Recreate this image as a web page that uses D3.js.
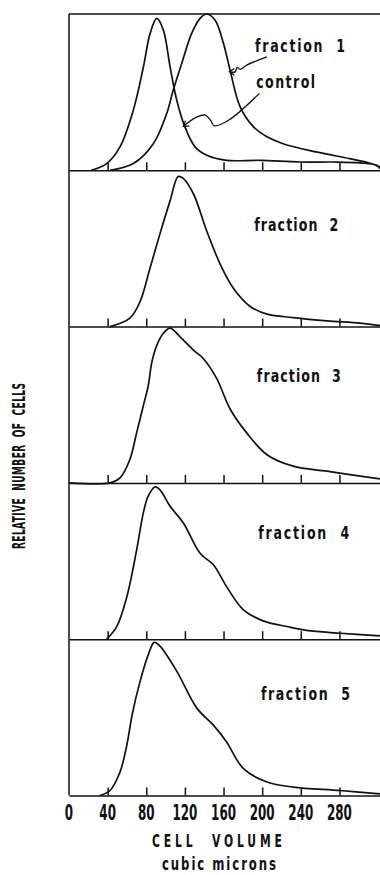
<!DOCTYPE html>
<html>
<head>
<meta charset="utf-8">
<script src="https://cdn.jsdelivr.net/npm/d3@7"></script>
<style>
  body { margin: 0; background: #fff; }
  svg { display: block; }
  .lbl { font-family: "DejaVu Sans Condensed", "DejaVu Sans", sans-serif; font-weight: bold; fill: #111; }
</style>
</head>
<body>
<div id="chart"></div>
<script>
// Cell volume distributions (volume in cubic microns, relative number 0-100 of panel height)

const panelNames = ['fraction 1', 'fraction 2', 'fraction 3', 'fraction 4', 'fraction 5'];
const tickValues = [40, 80, 120, 160, 200, 240, 280];
const tickLabels = [0, 40, 80, 120, 160, 200, 240, 280];

const control = [[23, 0], [39, 4.3], [52.8, 15], [66.6, 38.5], [77, 66], [84, 87.6], [90.9, 97.2],
  [97.7, 89.7], [104.7, 66], [111.5, 45], [120, 27.8], [130.5, 15], [142.7, 9.6], [163, 6.4],
  [198, 6.4], [239, 5.3], [273.6, 5.3], [301.6, 4.7], [318.5, 3.2], [322, 1]];

const fraction1 = [[42.5, 0], [66.6, 4.3], [87.3, 17], [101, 36], [107.8, 51], [116.5, 68],
  [127, 87.6], [135.7, 97.2], [142.7, 100], [151.3, 96], [160, 81], [166.8, 64], [177.2, 40.6],
  [191, 27.8], [205, 21.4], [221.6, 17], [256, 11.75], [290.4, 7.5], [311, 4.7], [322, 2.1]];

const fraction2 = [[42.5, 0], [63, 5.4], [73.6, 16], [84, 37.6], [94, 59], [104.7, 80.6], [113, 96],
  [118, 95], [128.8, 85], [142.7, 61], [156.5, 40], [170, 24.7], [187.6, 12.9], [205, 8],
  [232, 5.8], [267, 3.7], [301.6, 2.2], [322, 0.6]];

const fraction3 = [[0, 0], [42.5, 0], [52.8, 3.2], [63, 15], [70, 32], [77, 49.5], [82, 62], [85.7, 77],
  [90.9, 88], [97.7, 95.7], [104.7, 99], [115, 93.5], [128.8, 85], [139, 79.6], [153, 66.7],
  [166.8, 47.3], [184, 32], [205, 18], [232, 10.7], [267, 7.5], [301.6, 4.3], [322, 2.6]];

const fraction4 = [[39, 0], [49.4, 8], [59.8, 27], [70, 57], [77, 81], [82, 91.5], [89, 97.4],
  [94, 95.7], [104.7, 85], [118.4, 74.4], [135.7, 55], [149.5, 47.6], [163, 33.8], [180.6, 18.8],
  [201, 11.75], [225.6, 8.1], [246, 5.6], [281, 3.8], [322, 2.1]];

const fraction5 = [[32, 0], [42.5, 3.2], [52.8, 15], [59.8, 32], [65.5, 52], [73.6, 73], [82, 90],
  [88.3, 98], [94, 95.7], [111.5, 79.6], [132.3, 55.9], [149.5, 45], [163, 34.4], [180.6, 17.2],
  [205, 8.6], [232, 5.4], [281, 3.2], [322, 1]];

const panelSeries = [[fraction1, control], [fraction2], [fraction3], [fraction4], [fraction5]];

// label anchor points in data units (volume, relative number)
const labelPos = [[192.7, 75.8], [191.7, 61], [194.5, 64.6], [195.9, 63.9], [198.7, 61]];
const controlLabelPos = [193.8, 52.6];

// hand-drawn arrows in panel 1
const fraction1Arrow = [[204.9, 72.6], [184.1, 67.3], [177.2, 64.6], [174.1, 65.9], [172, 63], [166.1, 63]];
const controlArrow = [[197.2, 49.2], [165.1, 32], [150.5, 28.5], [146.5, 32], [141, 35.3], [132, 34], [118.4, 28.2]];

const width = 380, height = 875;
const topY = 14, panelH = 156.3;
const labelWidths = [90, 84, 84, 91, 89];

const svg = d3.select('#chart').append('svg')
    .attr('width', width)
    .attr('height', height);

const x = d3.scaleLinear().domain([0, 322]).range([69, 380]);

const yScales = panelNames.map((_, i) =>
    d3.scaleLinear().domain([0, 100]).range([topY + (i + 1) * panelH, topY + i * panelH]));

const line = (ys) => d3.line()
    .x(d => x(d[0]))
    .y(d => ys(d[1]))
    .curve(d3.curveCatmullRom.alpha(0.5));

// tall, narrow lettering like the original typewriter-style labels
function condText(parent, str, px, py, size, sy, len, opts = {}) {
    const t = parent.append('text')
        .attr('class', 'lbl')
        .attr('transform', `translate(${px},${py})${opts.rotate ? ' rotate(-90)' : ''} scale(1,${sy})`)
        .attr('font-size', size)
        .attr('text-anchor', opts.anchor || 'start')
        .text(str);
    if (len) t.attr('textLength', len).attr('lengthAdjust', opts.adjust || 'spacing');
    return t;
}

// frame: top border and left axis
svg.append('line')
    .attr('x1', x(0)).attr('x2', x(322))
    .attr('y1', topY).attr('y2', topY)
    .attr('stroke', '#111').attr('stroke-width', 1.5);

svg.append('line')
    .attr('x1', x(0)).attr('x2', x(0))
    .attr('y1', topY).attr('y2', topY + 5 * panelH)
    .attr('stroke', '#111').attr('stroke-width', 1.5);

panelNames.forEach((name, i) => {
    const ys = yScales[i];
    const g = svg.append('g');

    // baseline with upward ticks
    const axis = g.append('g')
        .attr('transform', `translate(0,${ys(0)})`)
        .call(d3.axisBottom(x).tickValues(tickValues).tickSize(-8).tickSizeOuter(0).tickFormat(''));
    axis.select('.domain').attr('stroke', '#111').attr('stroke-width', 1.5);
    axis.selectAll('.tick line').attr('stroke', '#111').attr('stroke-width', 1.5);

    panelSeries[i].forEach(series => {
        g.append('path')
            .datum(series)
            .attr('d', line(ys))
            .attr('fill', 'none')
            .attr('stroke', '#111')
            .attr('stroke-width', 1.7)
            .attr('stroke-linejoin', 'round');
    });

    condText(g, name.replace(' ', '\u00a0\u00a0'), x(labelPos[i][0]), ys(labelPos[i][1]),
        14, 1.3, labelWidths[i]);
});

// control label and arrows in panel 1
const y1 = yScales[0];
condText(svg, 'control', x(controlLabelPos[0]), y1(controlLabelPos[1]), 14, 1.3, 59);

const arrowLine = d3.line().x(d => x(d[0])).y(d => y1(d[1])).curve(d3.curveCatmullRom.alpha(0.5));

[fraction1Arrow, controlArrow].forEach(pts => {
    svg.append('path')
        .datum(pts)
        .attr('d', arrowLine)
        .attr('fill', 'none')
        .attr('stroke', '#111')
        .attr('stroke-width', 1.3)
        .attr('stroke-linejoin', 'round');
    // arrowhead barbs
    const tip = pts[pts.length - 1], prev = pts[pts.length - 2];
    const tx = x(tip[0]), ty = y1(tip[1]);
    const ang = Math.atan2(ty - y1(prev[1]), tx - x(prev[0]));
    const barb = 6;
    const p1 = [tx - barb * Math.cos(ang - 0.6), ty - barb * Math.sin(ang - 0.6)];
    const p2 = [tx - barb * Math.cos(ang + 0.6), ty - barb * Math.sin(ang + 0.6)];
    svg.append('path')
        .attr('d', `M${p1[0]},${p1[1]} L${tx},${ty} L${p2[0]},${p2[1]}`)
        .attr('fill', 'none')
        .attr('stroke', '#111')
        .attr('stroke-width', 1.3);
});

// bottom tick labels
const yBottom = yScales[4](0);
const labelG = svg.append('g');
tickLabels.forEach(d => {
    condText(labelG, String(d), x(d), yBottom + 24, 13, 1.6, String(d).length * 8.3,
        { anchor: 'middle', adjust: 'spacingAndGlyphs' });
});

// axis titles
condText(svg, 'CELL\u00a0\u00a0VOLUME', 152, 847, 12, 1.5, 130);
condText(svg, 'cubic\u00a0microns', 162, 870, 13, 1.3, 114);
condText(svg, 'RELATIVE\u00a0\u00a0NUMBER\u00a0\u00a0OF\u00a0\u00a0CELLS', 25, 549, 10, 1.7, 166, { rotate: true });
</script>
</body>
</html>
